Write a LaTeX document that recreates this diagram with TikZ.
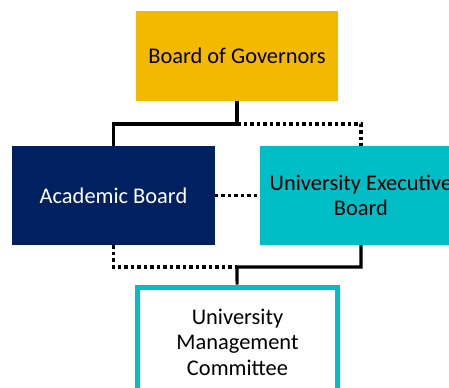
\documentclass[tikz,border=0pt]{standalone}
\usepackage{fontspec}
\setmainfont{Carlito}
\usetikzlibrary{positioning}

\definecolor{govgold}{RGB}{242,185,0}
\definecolor{acadnavy}{RGB}{0,32,96}
\definecolor{execteal}{RGB}{0,190,198}

\begin{document}
\begin{tikzpicture}[x=1bp,y=1bp,
    box/.style={rectangle, minimum width=202bp, minimum height=99bp, inner sep=0pt,
                align=center, font=\fontsize{22.5}{25.5}\selectfont},
    link/.style={line width=3.2bp, line join=miter},
    aux/.style={line width=3.5bp, dash pattern=on 3.5bp off 3bp}]
    \useasboundingbox (0,0) rectangle (449,387);
    \clip (0,0) rectangle (449,387);
        \node[box, fill=govgold, minimum height=90bp] (gov) at (237,331) {Board of Governors};
        \node[box, fill=acadnavy, text=white] (acad) at (113.5,191.5) {Academic Board};
        \node[box, fill=execteal] (exec) [right=45bp of acad] {University Executive\\Board};
        \node[box, draw=execteal, fill=white, line width=5bp, minimum width=200bp,
              minimum height=110bp, text depth=0pt] (umc) at (237.5,45)
              {University\\Management\\Committee};
        % junctions between the tiers
        \coordinate (top) at (gov.south |- 0,263);
        \coordinate (bot) at (gov.south |- 0,120);
        \draw[link] (gov) -- (top) -| (acad);
        \draw[aux] (top) -| (exec);
        \draw[aux] (acad) -- (exec);
        \draw[aux] (acad) |- (bot);
        \draw[link] (exec) |- (bot) -- (umc);
    \end{tikzpicture}
\end{document}
